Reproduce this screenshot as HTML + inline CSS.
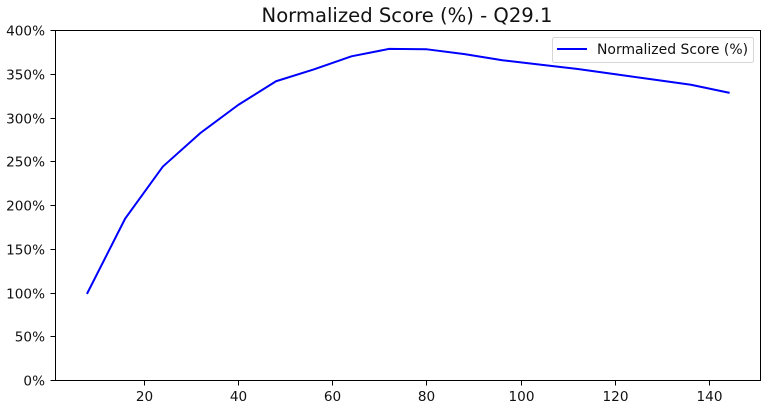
<!DOCTYPE html>
<html>
<head>
<meta charset="utf-8">
<style>
html,body{margin:0;padding:0;background:#fff;}
svg{display:block;font-family:"DejaVu Sans",sans-serif;fill:#111;}
</style>
</head>
<body>
<svg id="chart" width="775" height="408" viewBox="0 0 775 408" xmlns="http://www.w3.org/2000/svg">
  <text x="407" y="22" text-anchor="middle" font-size="19.6">Normalized Score (%) - Q29.1</text>
  <g id="y-axis"></g>
  <g id="x-axis"></g>
  <polyline id="series" fill="none" stroke="#0000ff" stroke-width="2" stroke-linejoin="round" stroke-linecap="square"></polyline>
  <rect x="55.5" y="30.5" width="705" height="350" fill="none" stroke="#000" stroke-width="1"></rect>
  <g>
    <rect x="552.5" y="37.5" width="201" height="25" rx="2" fill="#fff" fill-opacity="0.8" stroke="#d6d6d6" stroke-width="1"></rect>
    <line x1="557" y1="49" x2="587" y2="49" stroke="#0000ff" stroke-width="2"></line>
    <text x="597" y="54" font-size="13.95">Normalized Score (%)</text>
  </g>
</svg>
<script>
const hours = [8, 16, 24, 32, 40, 48, 56, 64, 72, 80, 88, 96, 104, 112, 120, 128, 136, 144];
const scores = [100, 185, 244.5, 283, 315, 342, 355.5, 370.5, 379, 378.5, 373, 366, 361, 356, 350, 344, 338, 329];
const xTicks = [20, 40, 60, 80, 100, 120, 140];
const yTicks = [0, 50, 100, 150, 200, 250, 300, 350, 400];

const NS = 'http://www.w3.org/2000/svg';
function xScale(v) { return 144 + (v - 20) * 4.715; }
function yScale(v) { return 380.5 - v * 0.875; }

const yAxis = document.getElementById('y-axis');
yTicks.forEach(function (t) {
  const y = Math.round(yScale(t) - 0.5) + 0.5;
  const tick = document.createElementNS(NS, 'line');
  
  
  tick.setAttribute('x1', 50.5);
  tick.setAttribute('x2', 55.5);
  tick.setAttribute('y1', y);
  tick.setAttribute('y2', y);
  tick.setAttribute('stroke', '#000');
  yAxis.appendChild(tick);
  const label = document.createElementNS(NS, 'text');
  
  
  label.setAttribute('x', 45);
  label.setAttribute('y', y + 5);
  label.setAttribute('text-anchor', 'end');
  label.setAttribute('font-size', '13.6');
  label.textContent = t + '%';
  yAxis.appendChild(label);
});

const xAxis = document.getElementById('x-axis');
xTicks.forEach(function (t) {
  const x = Math.round(xScale(t) - 0.5) + 0.5;
  const tick = document.createElementNS(NS, 'line');
  
  
  tick.setAttribute('x1', x);
  tick.setAttribute('x2', x);
  tick.setAttribute('y1', 380.5);
  tick.setAttribute('y2', 385.5);
  tick.setAttribute('stroke', '#000');
  xAxis.appendChild(tick);
  const label = document.createElementNS(NS, 'text');
  
  
  label.setAttribute('x', x);
  label.setAttribute('y', 401);
  label.setAttribute('text-anchor', 'middle');
  label.setAttribute('font-size', '13.6');
  label.textContent = t;
  xAxis.appendChild(label);
});

document.getElementById('series').setAttribute('points', hours.map(function (h, i) {
  return xScale(h).toFixed(2) + ',' + yScale(scores[i]).toFixed(2);
}).join(' '));
</script>
</body>
</html>
